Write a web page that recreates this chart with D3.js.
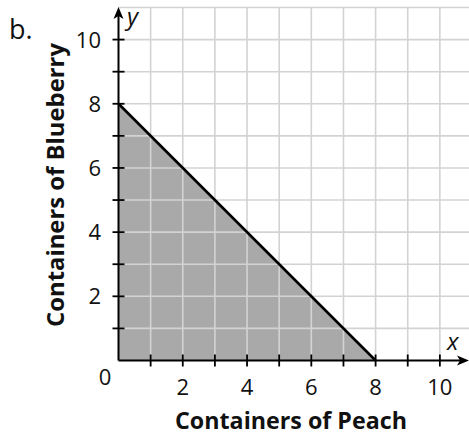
<!DOCTYPE html>
<html>
<head>
<meta charset="utf-8">
<script src="https://cdn.jsdelivr.net/npm/d3@7"></script>
<style>
  body { margin: 0; background: #fff; }
  svg { display: block; }
  text { font-family: "Open Sans", "Noto Sans", sans-serif; fill: #111; }
</style>
</head>
<body>
<svg id="chart" width="469" height="437"></svg>
<script>
// chart data
var xTicks = [1, 2, 3, 4, 5, 6, 7, 8, 9, 10];
var yTicks = [1, 2, 3, 4, 5, 6, 7, 8, 9, 10];
var xLabels = [2, 4, 6, 8, 10];
var yLabels = [2, 4, 6, 8, 10];
var gridLines = [1, 2, 3, 4, 5, 6, 7, 8, 9, 10, 11];
var boundary = [[0, 8], [8, 0]];   // x + y = 8
var region = [[0, 0], [0, 8], [8, 0]];

window.onload = function() {
    drawChart();
};

function drawChart() {
    var svg = d3.select("#chart");

    var x = d3.scaleLinear().domain([0, 11]).range([118.5, 472]);
    var y = d3.scaleLinear().domain([0, 11]).range([360.5, 7.5]);

    // shaded solution region
    svg.append("path")
        .datum(region)
        .attr("d", d3.line().x(function(d) { return x(d[0]); }).y(function(d) { return y(d[1]); }))
        .attr("fill", "#a9a9a9");

    // grid
    var grid = svg.append("g").attr("stroke", "#d3d3d3").attr("stroke-width", 1.6);
    grid.selectAll("line.v").data(gridLines).enter().append("line")
        .attr("x1", function(d) { return x(d); }).attr("x2", function(d) { return x(d); })
        .attr("y1", y(0)).attr("y2", y(11));
    grid.selectAll("line.h").data(gridLines).enter().append("line")
        .attr("y1", function(d) { return y(d); }).attr("y2", function(d) { return y(d); })
        .attr("x1", x(0)).attr("x2", 469);

    // boundary line
    svg.append("path")
        .datum(boundary)
        .attr("d", d3.line().x(function(d) { return x(d[0]); }).y(function(d) { return y(d[1]); }))
        .attr("stroke", "#000").attr("stroke-width", 2.6).attr("fill", "none");

    // axes
    svg.append("line")
        .attr("x1", x(0)).attr("x2", 462).attr("y1", y(0)).attr("y2", y(0))
        .attr("stroke", "#000").attr("stroke-width", 2);
    svg.append("path")
        .attr("d", "M469," + y(0) + " L457," + (y(0) - 5) + " L460," + y(0) + " L457," + (y(0) + 5) + " Z")
        .attr("fill", "#000");
    svg.append("line")
        .attr("x1", x(0)).attr("x2", x(0)).attr("y1", y(0)).attr("y2", 14)
        .attr("stroke", "#000").attr("stroke-width", 2);
    svg.append("path")
        .attr("d", "M" + x(0) + ",7 L" + (x(0) - 5) + ",19 L" + x(0) + ",16 L" + (x(0) + 5) + ",19 Z")
        .attr("fill", "#000");

    // ticks
    svg.append("g").selectAll("line").data(xTicks).enter().append("line")
        .attr("x1", function(d) { return x(d); }).attr("x2", function(d) { return x(d); })
        .attr("y1", y(0) - 6).attr("y2", y(0) + 6)
        .attr("stroke", "#000").attr("stroke-width", 1.8);
    svg.append("g").selectAll("line").data(yTicks).enter().append("line")
        .attr("y1", function(d) { return y(d); }).attr("y2", function(d) { return y(d); })
        .attr("x1", x(0) - 6).attr("x2", x(0) + 6)
        .attr("stroke", "#000").attr("stroke-width", 1.8);

    // tick labels
    svg.append("g").selectAll("text").data(xLabels).enter().append("text")
        .attr("x", function(d) { return x(d); }).attr("y", 395)
        .attr("text-anchor", "middle").attr("font-size", 22)
        .text(function(d) { return d; });
    svg.append("g").selectAll("text").data(yLabels).enter().append("text")
        .attr("x", 101).attr("y", function(d) { return y(d) + 8; })
        .attr("text-anchor", "end").attr("font-size", 22)
        .text(function(d) { return d; });
    svg.append("text").attr("x", 105).attr("y", 385)
        .attr("text-anchor", "middle").attr("font-size", 22).text("0");

    // axis letters
    svg.append("text").attr("x", 127).attr("y", 25)
        .attr("font-size", 24).attr("font-style", "italic").text("y");
    svg.append("text").attr("x", 447).attr("y", 350)
        .attr("font-size", 24).attr("font-style", "italic").text("x");

    // part label
    svg.append("text").attr("x", 9).attr("y", 39)
        .attr("font-size", 27).text("b.");

    // axis titles
    svg.append("text").attr("x", 175).attr("y", 429)
        .attr("font-size", 23).attr("font-weight", "bold")
        .attr("textLength", 232).attr("lengthAdjust", "spacingAndGlyphs")
        .text("Containers of Peach");
    svg.append("text")
        .attr("transform", "translate(64,327) rotate(-90)")
        .attr("font-size", 23).attr("font-weight", "bold")
        .attr("textLength", 284).attr("lengthAdjust", "spacingAndGlyphs")
        .text("Containers of Blueberry");
}
</script>
</body>
</html>
